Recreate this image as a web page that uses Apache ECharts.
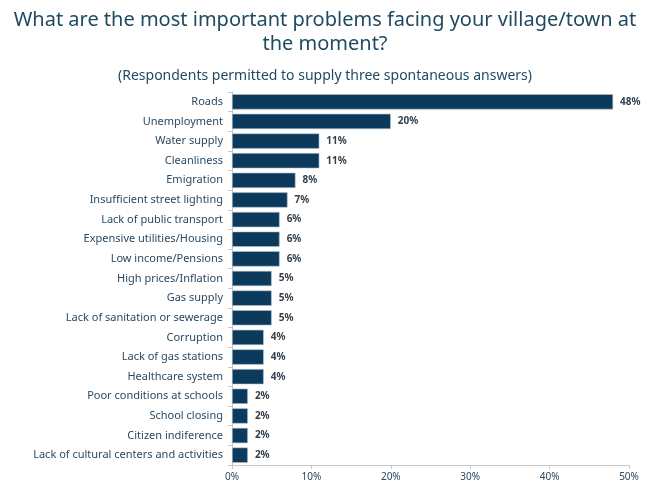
<!DOCTYPE html>
<html>
<head>
<meta charset="utf-8">
<script src="https://cdn.jsdelivr.net/npm/echarts@6/dist/echarts.min.js"></script>
<style>
  html, body { margin: 0; padding: 0; background: #fff; }
  #main { width: 650px; height: 493px; }
</style>
</head>
<body>
<div id="main"></div>
<script>
'use strict';
var categories = [
    'Roads', 'Unemployment', 'Water supply', 'Cleanliness', 'Emigration',
    'Insufficient street lighting', 'Lack of public transport',
    'Expensive utilities/Housing', 'Low income/Pensions', 'High prices/Inflation',
    'Gas supply', 'Lack of sanitation or sewerage', 'Corruption',
    'Lack of gas stations', 'Healthcare system', 'Poor conditions at schools',
    'School closing', 'Citizen indiference', 'Lack of cultural centers and activities'
];
var values = [48, 20, 11, 11, 8, 7, 6, 6, 6, 5, 5, 5, 4, 4, 4, 2, 2, 2, 2];
var tickValues = [0, 10, 20, 30, 40, 50];

var fontName = 'Noto Sans';
var textColor = '#2a4a63';

var myChart = echarts.init(document.getElementById('main'));

var option = {
    animation: false,
    textStyle: { fontFamily: fontName },
    title: [{
        text: 'What are the most important problems facing your village/town at\nthe moment?',
        left: 'center',
        top: 3,
        textStyle: { fontSize: 20, fontWeight: 'normal', color: '#1f4a62', lineHeight: 24, fontFamily: fontName }
    }, {
        text: '(Respondents permitted to supply three spontaneous answers)',
        left: 'center',
        top: 64,
        textStyle: { fontSize: 14, fontWeight: 'normal', color: '#1f4a62', fontFamily: fontName }
    }],
    grid: { left: 232, right: 21, top: 92, bottom: 28 },
    xAxis: {
        type: 'value',
        min: 0,
        max: 50,
        interval: 10,
        splitLine: { show: false },
        axisLine: { show: true, lineStyle: { color: '#c8c8c8' } },
        axisTick: { show: true, length: 4, lineStyle: { color: '#c8c8c8' } },
        axisLabel: {
            color: textColor, fontSize: 10, margin: 7,
            formatter: function(v) { return tickValues.indexOf(v) >= 0 ? v + '%' : ''; }
        }
    },
    yAxis: {
        type: 'category',
        inverse: true,
        data: categories,
        axisLine: { show: true, lineStyle: { color: '#c8c8c8' } },
        axisTick: { show: true, length: 4, lineStyle: { color: '#c8c8c8' } },
        axisLabel: { color: textColor, fontSize: 11, margin: 9 }
    },
    series: [{
        type: 'bar',
        data: values,
        barCategoryGap: '22%',
        itemStyle: { color: '#0b3a5c', borderColor: '#b9c6d0', borderWidth: 0.6 },
        label: {
            show: true,
            position: 'right',
            distance: 7,
            formatter: '{c}%',
            color: '#333f4a',
            fontSize: 10,
            fontWeight: 'bold'
        }
    }]
};

myChart.setOption(option);
</script>
</body>
</html>
